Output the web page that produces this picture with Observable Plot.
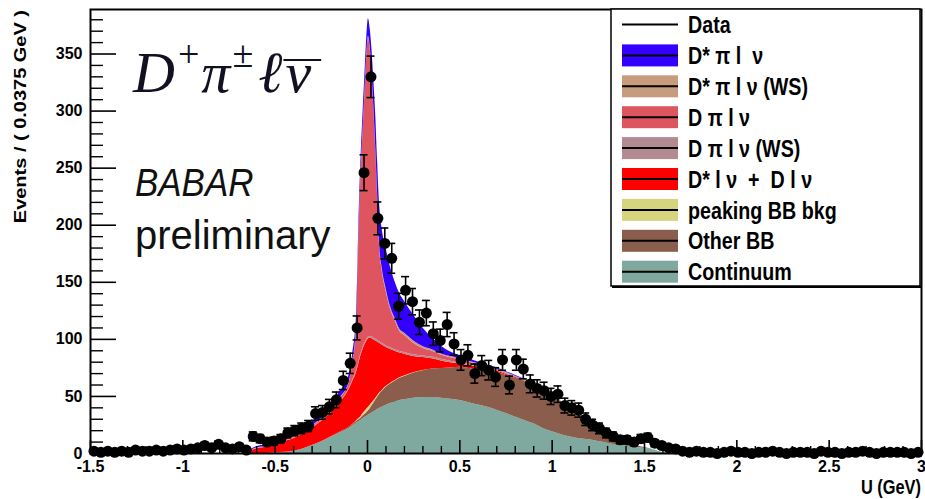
<!DOCTYPE html>
<html><head><meta charset="utf-8">
<script src="https://cdn.jsdelivr.net/npm/d3@7"></script>
<script src="https://cdn.jsdelivr.net/npm/@observablehq/plot@0.6"></script>
<style>
html,body{margin:0;padding:0;background:#fff;}
svg{display:block}
text{white-space:pre}
</style>
</head><body><div id="chart"></div>
<script>
// ---------- data: histogram of U (GeV), 120 bins of 0.0375 GeV from -1.5 ----------
const binLo = -1.5, binWidth = 0.0375;
const counts = [
  2,1,2,1,2,1,3,2,2,3,
  2,3,4,3,4,5,7,5,8,5,
  4,6,3,15,13,10,11,13,18,20,
  22,24,35,36,41,47,64,79,110,246,
  330,206,184,171,129,143,133,115,123,105,
  99,113,96,82,86,70,77,73,67,82,
  60,82,74,61,57,55,50,52,42,40,
  38,30,25,22,18,15,12,12,10,13,
  14,9,7,5,4,2,1,2,1,1,
  0,1,2,1,1,0,1,1,2,1,
  0,1,1,1,0,2,1,1,0,1,
  1,2,1,0,1,1,1,1,0,1
];

// ---------- fit components (stacked, bottom first), sampled on gridU ----------
const gridU = [-0.64,-0.62,-0.55,-0.5,-0.45,-0.4,-0.35,-0.3,-0.25,-0.2,
  -0.15,-0.1,-0.08,-0.06,-0.045,-0.035,-0.025,-0.015,-0.005,0.005,
  0.015,0.025,0.035,0.045,0.055,0.065,0.08,0.1,0.12,0.15,
  0.175,0.2,0.25,0.3,0.35,0.4,0.45,0.5,0.55,0.6,
  0.65,0.7,0.75,0.8,0.85,0.9,0.95,1.0,1.05,1.1,
  1.15,1.2,1.25,1.3,1.35,1.4,1.45,1.5,1.55,1.6,
  1.65,1.7];
const continuum = [0,0,0,0.5,1,2,4,7,10,14,
  18,22,24,26.5,28,29,30.5,31.5,32.5,33.5,
  34.5,35.5,36.5,37.5,38.5,39.5,40.5,42,43.5,45,
  46.5,47,48.5,49,49,48.5,47.5,46.5,44.5,42.5,
  40.5,38,35,32,29,26,22,19,16.5,14.5,
  13,12,10.5,9,7.5,6.5,5.5,4.5,3,0.8,
  0.2,0];
const otherBB = [0,0,0,0,0,0,0,0,0.2,0.5,
  0.7,1,1.2,1.5,1.8,2,2.3,2.7,3.2,4,
  5,6.5,8,9.5,11,12.5,14,16,17,18.5,
  19.5,20.5,22,23.5,25,26,27.5,29,30,31,
  32,33,33.5,34,34,33.5,33,31,28.5,25.5,
  21.5,17,13,9,5.5,3,1.5,0.7,0.2,0,
  0,0];
const peakingBB = [0,0,0,0,0,0,0,0,0,0,
  0,0,0.2,0.5,1,1.5,2,2.5,3,3,
  3,2.5,2,1.5,1.2,1,0.8,0.6,0.5,0.4,
  0.35,0.3,0.25,0.2,0.1,0,0,0,0,0,
  0,0,0,0,0,0,0,0,0,0,
  0,0,0,0,0,0,0,0,0,0,
  0,0];
const dstLnuDLnu = [0,3,5.5,7.5,9.5,11,13,15,17.8,20.5,
  25.3,33,37.6,42.5,49.2,53.5,56.2,58.3,59.3,60,
  58.5,56,53,50,46.8,43.5,39.7,34.4,30.5,25.6,
  21.6,19.2,14.3,11.3,8.9,6.5,4.5,3,2.5,2,
  1.5,1.2,1,0.8,0.6,0.5,0.4,0.3,0.2,0.2,
  0.1,0.1,0,0,0,0,0,0,0,0,
  0,0];
const dPiLnuWS = [0,0.2,0.3,0.3,0.4,0.4,0.5,0.5,0.6,0.7,
  0.8,1,1.2,1.5,1.5,1.5,1.5,1.5,1.5,1.5,
  1.5,1.5,1.5,1.5,1.5,1.5,1.5,1.5,1.5,1.5,
  1.5,1.5,1.5,1.5,1.5,1.5,1.4,1.3,1.2,1.1,
  1,0.9,0.8,0.7,0.6,0.5,0.4,0.3,0.2,0.2,
  0.1,0.1,0,0,0,0,0,0,0,0,
  0,0];
const dPiLnu = [0,0.3,0.5,0.5,0.7,0.8,1,1.2,1.5,2,
  3,4.5,15.5,37.5,118,157,187,215,245,262,
  252,228,199,165,125,85,63.5,48.5,36,25,
  17.5,15,10,6.5,5,3.5,3,2.5,2,1.5,
  1,0.8,0.5,0.3,0.2,0.1,0,0,0,0,
  0,0,0,0,0,0,0,0,0,0,
  0,0];
const dstPiLnuWS = [0,0.1,0.2,0.2,0.3,0.3,0.4,0.4,0.5,0.5,
  0.6,0.7,0.8,1,1.2,1.5,1.5,1.5,1.5,1.5,
  1.5,1.5,1.5,1.5,2,2,2,2,2,2,
  2,2,2,1.8,1.5,1.2,1,0.8,0.6,0.5,
  0.4,0.3,0.3,0.2,0.2,0.1,0.1,0.1,0,0,
  0,0,0,0,0,0,0,0,0,0,
  0,0];
const dstPiLnu = [0,0.9,1.3,1.8,2.2,2.7,3.1,3.6,4,4.5,
  5.4,6.3,7.2,9,11.8,13.5,14.5,15.5,15.5,15.5,
  15.5,20.5,23.5,28.5,29,35,34,35,35,32,
  31,28,22.5,16.2,10.1,6.8,4,2.7,1.9,1.5,
  1.1,0.9,0.7,0.6,0.4,0.4,0.3,0.2,0.2,0.1,
  0.1,0.1,0,0,0,0,0,0,0,0,
  0,0];

// names and colours, bottom of the stack first
const components = ["Continuum","Other BB","peaking BB bkg","D* l ν  +  D l ν","D π l ν (WS)","D π l ν","D* π l ν (WS)","D* π l  ν"];
const compSeries = [continuum, otherBB, peakingBB, dstLnuDLnu, dPiLnuWS, dPiLnu, dstPiLnuWS, dstPiLnu];
const compColors = ["#7fa99e","#8b5d4d","#d6d47e","#ff0000","#b38a8f","#de5560","#c69c7c","#3300ff"];

// axis ticks and titles
const xMajor = [-1.5,-1,-0.5,0,0.5,1,1.5,2,2.5,3];
const yMajor = [0,50,100,150,200,250,300,350];
const xTitle = "U (GeV)";
const yTitle = "Events / ( 0.0375 GeV )";

// ---------- build tables ----------
const dataRows = counts.map((n, i) => ({u: binLo + binWidth * (i + 0.5), n}));
const errRows = dataRows.filter(d => d.n > 0);
const modelRows = components.flatMap((c, k) => gridU.map((u, j) => ({u, comp: c, v: compSeries[k][j]})));
const xMinor = d3.range(-15, 31).map(k => k / 10).filter(v => !xMajor.some(m => Math.abs(m - v) < 1e-9));
const yMinor = d3.range(0, 390, 10).filter(v => v % 50 !== 0);

function hasFont(name){
  const c = document.createElement("canvas").getContext("2d");
  const s = "abcdefghijBBBmmmWW0123";
  c.font = "20px monospace"; const a = c.measureText(s).width;
  c.font = `20px '${name}', monospace`; const b = c.measureText(s).width;
  return Math.abs(a - b) > 0.5;
}
const narrowOK = hasFont("Liberation Sans Narrow");
const NARROW = narrowOK ? "'Liberation Sans Narrow', 'Liberation Sans', Arial, sans-serif" : "'Liberation Sans', Arial, sans-serif";
const SQ = narrowOK ? 1 : 0.82;   // horizontal squeeze if narrow face missing
const tickFont = narrowOK ? 19 : 16;

const plot = Plot.plot({
  width: 925, height: 499,
  marginLeft: 90, marginRight: 4, marginTop: 9, marginBottom: 46,
  x: {domain: [-1.5, 3], axis: null},
  y: {domain: [0, 389], axis: null},
  color: {domain: components, range: compColors},
  style: {background: "white", fontFamily: NARROW, color: "black"},
  marks: [
    Plot.areaY(modelRows, {x: "u", y: "v", fill: "comp", order: components, curve: "monotone-x"}),
    Plot.ruleX(xMinor, {y1: 0, y2: 0, insetTop: -7, stroke: "black", strokeWidth: 1.4}),
    Plot.ruleX(xMajor, {y1: 0, y2: 0, insetTop: -13, stroke: "black", strokeWidth: 1.6}),
    Plot.ruleY(yMinor, {x1: -1.5, x2: -1.5, insetRight: -13, stroke: "black", strokeWidth: 1.4}),
    Plot.ruleY(yMajor, {x1: -1.5, x2: -1.5, insetRight: -26, stroke: "black", strokeWidth: 1.6}),
    Plot.ruleX(errRows, {x: "u", y1: d => d.n - Math.sqrt(d.n), y2: d => d.n + Math.sqrt(d.n), stroke: "black", strokeWidth: 1.6}),
    Plot.ruleY(errRows, {x1: "u", x2: "u", y: d => d.n + Math.sqrt(d.n), insetLeft: -4, insetRight: -4, stroke: "black", strokeWidth: 1.6}),
    Plot.ruleY(errRows, {x1: "u", x2: "u", y: d => d.n - Math.sqrt(d.n), insetLeft: -4, insetRight: -4, stroke: "black", strokeWidth: 1.6}),
    Plot.dot(dataRows, {x: "u", y: "n", r: 5.5, fill: "black", stroke: "none"}),
    Plot.frame({stroke: "black", strokeWidth: 2}),
    Plot.axisX(xMajor, {tickSize: 0, tickPadding: 7, tickFormat: d => String(d), label: null, fontSize: tickFont, fontWeight: "bold"}),
    Plot.axisY(yMajor, {tickSize: 0, tickPadding: 8, tickFormat: d => String(d), label: null, fontSize: tickFont, fontWeight: "bold"})
  ]
});
document.getElementById("chart").appendChild(plot);

// ---------- annotations ----------
const svg = d3.select(plot);
function sqAt(x, s){ return svg.append("g").attr("transform", `translate(${x},0) scale(${s},1) translate(${-x},0)`); }

// axis titles
sqAt(921, SQ).append("text").attr("x", 921).attr("y", 494).attr("text-anchor", "end")
  .attr("font-family", NARROW).attr("font-size", 20).attr("font-weight", "bold").text(xTitle);
sqAt(22, 0.82).append("text").attr("transform", "translate(27,10) rotate(-90)").attr("text-anchor", "end")
  .attr("font-family", "'Liberation Sans', Arial, sans-serif").attr("font-size", 20).attr("font-weight", "bold").text(yTitle);

// physics label  D+ π± ℓ ν-bar
const mathFont = "'Liberation Serif', 'DejaVu Serif', serif";
const mt = svg.append("text").attr("x", 133).attr("y", 92).attr("text-anchor", "start")
  .attr("font-family", mathFont).attr("font-size", 58).attr("font-style", "italic").attr("fill", "#111122");
mt.append("tspan").text("D");
mt.append("tspan").attr("dy", -25).attr("dx", 3).attr("font-size", 38).attr("font-style", "normal").text("+");
mt.append("tspan").attr("dy", 25).attr("dx", 2).text("π");
mt.append("tspan").attr("dy", -25).attr("dx", 2).attr("font-size", 38).attr("font-style", "normal").text("±");
mt.append("tspan").attr("dy", 25).attr("dx", 5).text("ℓ");
const mtEnd = 133 + mt.node().getComputedTextLength() + 5 + 10;
const nu = svg.append("text").attr("x", mtEnd).attr("y", 92).attr("text-anchor", "start")
  .attr("font-family", mathFont).attr("font-size", 58).attr("font-style", "italic").attr("fill", "#111122").text("ν");
const nuW = nu.node().getComputedTextLength();
svg.append("line").attr("x1", mtEnd - 2).attr("x2", mtEnd + nuW + 10).attr("y1", 60).attr("y2", 60)
  .attr("stroke", "#111122").attr("stroke-width", 2.2);

sqAt(135, 0.92).append("text").attr("x", 135).attr("y", 196).attr("text-anchor", "start").attr("font-family", "'Liberation Sans', Arial, sans-serif")
  .attr("font-size", 38).attr("font-style", "italic").attr("fill", "#111").text("BABAR");
svg.append("text").attr("x", 135).attr("y", 249).attr("text-anchor", "start").attr("font-family", "'Liberation Sans', Arial, sans-serif")
  .attr("font-size", 40).attr("fill", "#111").text("preliminary");

// legend
const lg = svg.append("g");
lg.append("rect").attr("x", 611).attr("y", 9).attr("width", 309).attr("height", 277)
  .attr("fill", "white").attr("stroke", "black").attr("stroke-width", 1.5);
lg.append("line").attr("x1", 612).attr("x2", 921).attr("y1", 287).attr("y2", 287).attr("stroke", "black").attr("stroke-width", 2);
const legendEntries = [{label: "Data", color: null}].concat(components.map((c, k) => ({label: c, color: compColors[k]})).reverse());
legendEntries.forEach((e, k) => {
  const cy = 24.5 + 30.9 * k;
  if (e.color) {
    lg.append("rect").attr("x", 622).attr("y", cy - 11).attr("width", 56).attr("height", 22).attr("fill", e.color);
  }
  lg.append("line").attr("x1", 622).attr("x2", 678).attr("y1", cy).attr("y2", cy).attr("stroke", "black").attr("stroke-width", 2);
  sqAt(688, SQ).append("text").attr("x", 688).attr("y", cy).attr("dy", "0.36em").attr("text-anchor", "start")
    .attr("font-family", NARROW).attr("font-size", 24).attr("font-weight", "bold").text(e.label);
});
</script>
</body></html>
